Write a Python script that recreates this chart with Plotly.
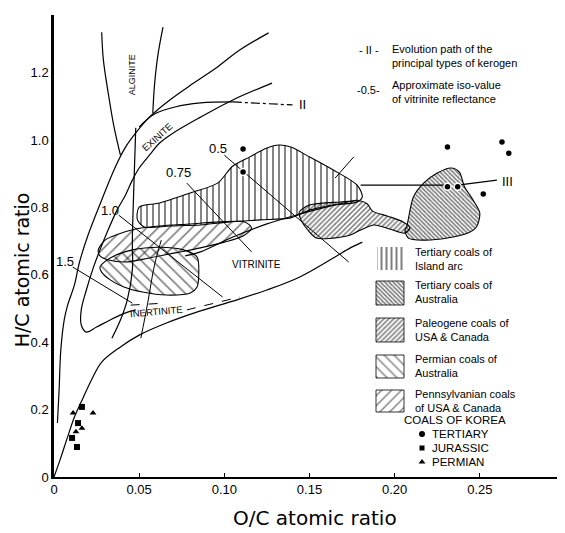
import plotly.graph_objects as go

# ---------------- data (O/C , H/C atomic ratios) ----------------
type1_x = [0.002, 0.003, 0.004, 0.006, 0.008, 0.012, 0.015, 0.020, 0.028, 0.036, 0.042, 0.048, 0.056, 0.068, 0.082, 0.096, 0.109, 0.126]
type1_y = [0.160, 0.258, 0.377, 0.466, 0.510, 0.570, 0.638, 0.718, 0.822, 0.920, 0.979, 1.021, 1.068, 1.119, 1.169, 1.217, 1.267, 1.318]

alginite_left_x = [0.028, 0.029, 0.032, 0.035, 0.039]
alginite_left_y = [1.320, 1.237, 1.134, 1.045, 0.955]
alginite_right_x = [0.064, 0.061, 0.059, 0.058]
alginite_right_y = [1.335, 1.252, 1.163, 1.080]

type2_x = [0.050, 0.059, 0.071, 0.086, 0.105]
type2_y = [1.039, 1.077, 1.098, 1.110, 1.113]
type2_dash_x = [0.105, 0.140]
type2_dash_y = [1.113, 1.104]

exinite_x = [0.128, 0.105, 0.086, 0.070, 0.062, 0.056, 0.050, 0.046, 0.042, 0.037, 0.031, 0.027, 0.023, 0.019, 0.016, 0.016, 0.019, 0.025, 0.033, 0.042, 0.048]
exinite_y = [1.169, 1.119, 1.068, 1.021, 0.991, 0.955, 0.917, 0.881, 0.837, 0.792, 0.724, 0.674, 0.620, 0.555, 0.496, 0.451, 0.430, 0.445, 0.466, 0.487, 0.496]

vline_x = [0.048, 0.047, 0.046, 0.046, 0.043, 0.039, 0.034]
vline_y = [1.036, 0.881, 0.703, 0.614, 0.525, 0.466, 0.412]

type3_x = [0.000, 0.0035, 0.008, 0.012, 0.017, 0.022, 0.028, 0.039, 0.050, 0.066, 0.086, 0.105, 0.125, 0.144, 0.164, 0.174, 0.181]
type3_y = [0.000, 0.050, 0.119, 0.178, 0.234, 0.288, 0.341, 0.386, 0.421, 0.457, 0.493, 0.522, 0.555, 0.593, 0.650, 0.680, 0.697]

vitrinite_top_x = [0.077, 0.086, 0.105, 0.125, 0.144, 0.162, 0.178]
vitrinite_top_y = [0.656, 0.668, 0.712, 0.751, 0.780, 0.804, 0.822]

type3_path_x = [0.180, 0.231, None, 0.237, 0.260]
type3_path_y = [0.866, 0.866, None, 0.866, 0.881]

iso_05_x = [0.100, 0.173]
iso_05_y = [0.955, 0.638]
iso_075_x = [0.078, 0.116]
iso_075_y = [0.872, 0.668]
iso_10_x = [0.038, 0.099]
iso_10_y = [0.777, 0.534]
iso_15_x = [0.011, 0.046]
iso_15_y = [0.623, 0.516]

short_x = [0.176, 0.165]
short_y = [0.950, 0.887]
cross_x = [0.063, 0.059, 0.055, 0.051]
cross_y = [0.703, 0.629, 0.516, 0.412]

dash1_x = [0.045, 0.065]
dash1_y = [0.510, 0.516]
dash2_x = [0.078, 0.109]
dash2_y = [0.496, 0.534]

island_arc_x = [0.050, 0.062, 0.080, 0.096, 0.105, 0.115, 0.125, 0.132, 0.139, 0.150, 0.164, 0.178, 0.181, 0.178, 0.164, 0.150, 0.139, 0.121, 0.103, 0.086, 0.068, 0.053, 0.049, 0.050]
island_arc_y = [0.801, 0.813, 0.843, 0.872, 0.923, 0.950, 0.976, 0.985, 0.979, 0.950, 0.911, 0.866, 0.831, 0.816, 0.807, 0.792, 0.769, 0.763, 0.757, 0.748, 0.745, 0.742, 0.763, 0.801]

australia_x = [0.207, 0.211, 0.217, 0.225, 0.233, 0.238, 0.241, 0.246, 0.250, 0.248, 0.243, 0.231, 0.217, 0.208, 0.206, 0.207]
australia_y = [0.742, 0.831, 0.872, 0.902, 0.917, 0.905, 0.861, 0.822, 0.783, 0.742, 0.724, 0.709, 0.703, 0.709, 0.733, 0.742]

paleogene_x = [0.144, 0.150, 0.168, 0.180, 0.184, 0.187, 0.196, 0.205, 0.209, 0.206, 0.197, 0.188, 0.180, 0.174, 0.164, 0.154, 0.149, 0.145, 0.144]
paleogene_y = [0.786, 0.807, 0.816, 0.819, 0.810, 0.789, 0.774, 0.757, 0.739, 0.724, 0.736, 0.748, 0.733, 0.718, 0.709, 0.709, 0.733, 0.763, 0.786]

permian_x = [0.027, 0.033, 0.046, 0.062, 0.076, 0.084, 0.085, 0.084, 0.080, 0.066, 0.052, 0.041, 0.033, 0.028, 0.027]
permian_y = [0.623, 0.650, 0.674, 0.682, 0.674, 0.653, 0.605, 0.564, 0.546, 0.540, 0.549, 0.564, 0.585, 0.608, 0.623]

penn_x = [0.026, 0.030, 0.038, 0.048, 0.062, 0.080, 0.097, 0.112, 0.116, 0.111, 0.100, 0.086, 0.071, 0.056, 0.042, 0.032, 0.027, 0.026]
penn_y = [0.674, 0.703, 0.721, 0.736, 0.745, 0.751, 0.757, 0.757, 0.739, 0.715, 0.697, 0.680, 0.665, 0.650, 0.638, 0.644, 0.656, 0.674]

tertiary_x = [0.111, 0.111, 0.231, 0.263, 0.267, 0.231, 0.237, 0.252]
tertiary_y = [0.973, 0.905, 0.979, 0.994, 0.961, 0.861, 0.861, 0.840]
jurassic_x = [0.0164, 0.0141, 0.0106, 0.0135]
jurassic_y = [0.208, 0.160, 0.116, 0.089]
permian_pts_x = [0.0112, 0.0229, 0.0129, 0.0164]
permian_pts_y = [0.190, 0.190, 0.134, 0.145]

x_ticks = [0, 0.05, 0.10, 0.15, 0.20, 0.25]
x_tick_labels = ["0", "0.05", "0.10", "0.15", "0.20", "0.25"]
y_ticks = [0, 0.2, 0.4, 0.6, 0.8, 1.0, 1.2]
y_tick_labels = ["0", "0.2", "0.4", "0.6", "0.8", "1.0", "1.2"]

FONT = "Liberation Sans"
TFONT = "DejaVu Sans"

fig = go.Figure()


def line(x, y, width=1.2, dash="solid", shape="spline"):
    fig.add_trace(go.Scatter(x=x, y=y, mode="lines", showlegend=False, hoverinfo="skip",
                             line=dict(color="black", width=width, dash=dash, shape=shape)))


def region(x, y, shape, size, solidity, width=1.1):
    fig.add_trace(go.Scatter(x=x, y=y, mode="lines", fill="toself", showlegend=False, hoverinfo="skip",
                             fillcolor="rgba(255,255,255,0)",
                             fillpattern=dict(shape=shape, size=size, solidity=solidity,
                                              fgcolor="black", bgcolor="rgba(255,255,255,0)"),
                             line=dict(color="black", width=width, shape="spline", smoothing=0.8)))


# curves
line(type1_x, type1_y)
line(alginite_left_x, alginite_left_y)
line(alginite_right_x, alginite_right_y)
line(type2_x, type2_y)
line(type2_dash_x, type2_dash_y, dash="dashdot")
line(exinite_x, exinite_y)
line(vline_x, vline_y)
line(type3_x, type3_y)
line(vitrinite_top_x, vitrinite_top_y)
line(type3_path_x, type3_path_y, shape="linear")
for ix, iy in [(iso_05_x, iso_05_y), (iso_075_x, iso_075_y), (iso_10_x, iso_10_y), (iso_15_x, iso_15_y),
               (short_x, short_y)]:
    line(ix, iy, width=1.0, shape="linear")
line(cross_x, cross_y, width=1.0)
line(dash1_x, dash1_y, width=1.0, dash="dash", shape="linear")
line(dash2_x, dash2_y, width=1.0, dash="dash", shape="linear")

# hatched regions
region(permian_x, permian_y, "\\", 8, 0.2)
region(penn_x, penn_y, "/", 8, 0.2)
region(paleogene_x, paleogene_y, "/", 3.5, 0.45)
region(island_arc_x, island_arc_y, "|", 6, 0.32)
region(australia_x, australia_y, "\\", 3, 0.55)

# Korean coals
fig.add_trace(go.Scatter(x=tertiary_x, y=tertiary_y, mode="markers", showlegend=False, hoverinfo="skip",
                         marker=dict(symbol="circle", size=7, color="black", line=dict(color="white", width=1.5))))
fig.add_trace(go.Scatter(x=jurassic_x, y=jurassic_y, mode="markers", showlegend=False, hoverinfo="skip",
                         marker=dict(symbol="square", size=6, color="black")))
fig.add_trace(go.Scatter(x=permian_pts_x, y=permian_pts_y, mode="markers", showlegend=False, hoverinfo="skip",
                         marker=dict(symbol="triangle-up", size=6, color="black")))


# ---------- legend drawn on an overlay pixel axis ----------
def swatch(x0, y0, x1, y1, shape, size, solidity, border=0.8):
    fig.add_trace(go.Scatter(x=[x0, x1, x1, x0, x0], y=[y0, y0, y1, y1, y0], xaxis="x2", yaxis="y2",
                             mode="lines", fill="toself", showlegend=False, hoverinfo="skip",
                             fillcolor="rgba(255,255,255,0)",
                             fillpattern=dict(shape=shape, size=size, solidity=solidity,
                                              fgcolor="black", bgcolor="rgba(255,255,255,0)"),
                             line=dict(color="black" if border else "rgba(0,0,0,0)", width=border or 0.1)))


swatch(377, 247, 403, 270, "|", 5, 0.4, border=0)
swatch(376, 281, 404, 305, "\\", 3, 0.55)
swatch(376, 318, 404, 342, "/", 3.5, 0.45)
swatch(376, 355, 404, 378, "\\", 7, 0.2)
swatch(376, 390, 404, 412, "/", 7, 0.2)

fig.add_trace(go.Scatter(x=[422], y=[434], xaxis="x2", yaxis="y2", mode="markers", showlegend=False,
                         marker=dict(symbol="circle", size=6, color="black")))
fig.add_trace(go.Scatter(x=[422], y=[448], xaxis="x2", yaxis="y2", mode="markers", showlegend=False,
                         marker=dict(symbol="square", size=5, color="black")))
fig.add_trace(go.Scatter(x=[422], y=[462], xaxis="x2", yaxis="y2", mode="markers", showlegend=False,
                         marker=dict(symbol="triangle-up", size=6, color="black")))

annotations = []


def ann(x, y, text, size, ref="", angle=0, xanchor="center", family=FONT):
    annotations.append(dict(x=x, y=y, xref="x" + ref, yref="y" + ref, text=text, showarrow=False,
                            textangle=angle, xanchor=xanchor, yanchor="middle", align=xanchor if xanchor != "center" else "center",
                            font=dict(size=size, family=family, color="black")))


# region labels (data coordinates)
ann(0.046, 1.193, "ALGINITE", 9, angle=-90)
ann(0.061, 1.009, "EXINITE", 9.5, angle=-42)
ann(0.119, 0.632, "VITRINITE", 10)
ann(0.060, 0.490, "INERTINITE", 9.5, angle=-5)
ann(0.096, 0.976, "0.5", 13)
ann(0.073, 0.905, "0.75", 13)
ann(0.033, 0.792, "1.0", 13)
ann(0.0065, 0.641, "1.5", 13)
ann(0.146, 1.104, "II", 13)
ann(0.266, 0.878, "III", 13)

# notes & legend text (pixel overlay coordinates)
ann(369, 50, "- II -", 11, ref="2")
ann(390, 56, "Evolution path of the<br>principal types of kerogen", 11, ref="2", xanchor="left")
ann(368, 90, "-0.5-", 11, ref="2")
ann(390, 92, "Approximate iso-value<br>of vitrinite reflectance", 11, ref="2", xanchor="left")

ann(413, 259, "Tertiary coals of<br>Island arc", 11, ref="2", xanchor="left")
ann(413, 292, "Tertiary coals of<br>Australia", 11, ref="2", xanchor="left")
ann(413, 330, "Paleogene coals of<br>USA &amp; Canada", 11, ref="2", xanchor="left")
ann(413, 366, "Permian coals of<br>Australia", 11, ref="2", xanchor="left")
ann(413, 401, "Pennsylvanian coals<br>of USA &amp; Canada", 11, ref="2", xanchor="left")
ann(455, 420, "COALS OF KOREA", 11.5, ref="2")
ann(430, 434, "TERTIARY", 11.5, ref="2", xanchor="left")
ann(430, 448, "JURASSIC", 11.5, ref="2", xanchor="left")
ann(430, 462, "PERMIAN", 11.5, ref="2", xanchor="left")

# axis titles (paper coordinates, outside the plotting area)
annotations.append(dict(x=-0.062, y=0.448, xref="paper", yref="paper", text="H/C atomic ratio",
                        showarrow=False, textangle=-90, xanchor="center", yanchor="middle",
                        font=dict(size=19, family=TFONT, color="black")))
annotations.append(dict(x=0.511, y=-0.089, xref="paper", yref="paper", text="O/C atomic ratio",
                        showarrow=False, xanchor="center", yanchor="middle",
                        font=dict(size=20, family=TFONT, color="black")))

# the page body adds an 8 px margin, so the figure is 8 px smaller and the
# plot area still lands on the reference's axes (x 54..565, y 15..477)
fig.update_layout(
    width=557, height=525,
    margin=dict(l=46, r=0, t=7, b=56),
    paper_bgcolor="white", plot_bgcolor="white",
    showlegend=False,
    annotations=annotations,
    xaxis=dict(range=[0, 0.30], tickvals=x_ticks, ticktext=x_tick_labels, showgrid=False, zeroline=False,
               showline=True, linecolor="black", linewidth=1.5, ticks="inside", ticklen=4, tickcolor="black",
               tickfont=dict(size=13, family=FONT, color="black")),
    yaxis=dict(range=[0, 1.371], tickvals=y_ticks, ticktext=y_tick_labels, showgrid=False, zeroline=False,
               showline=True, linecolor="black", linewidth=2.5, ticks="",
               tickfont=dict(size=13, family=FONT, color="black")),
    xaxis2=dict(range=[54, 565], overlaying="x", visible=False, anchor="y2"),
    yaxis2=dict(range=[477, 15], overlaying="y", visible=False, anchor="x2"),
)

fig.write_html("out.html")
